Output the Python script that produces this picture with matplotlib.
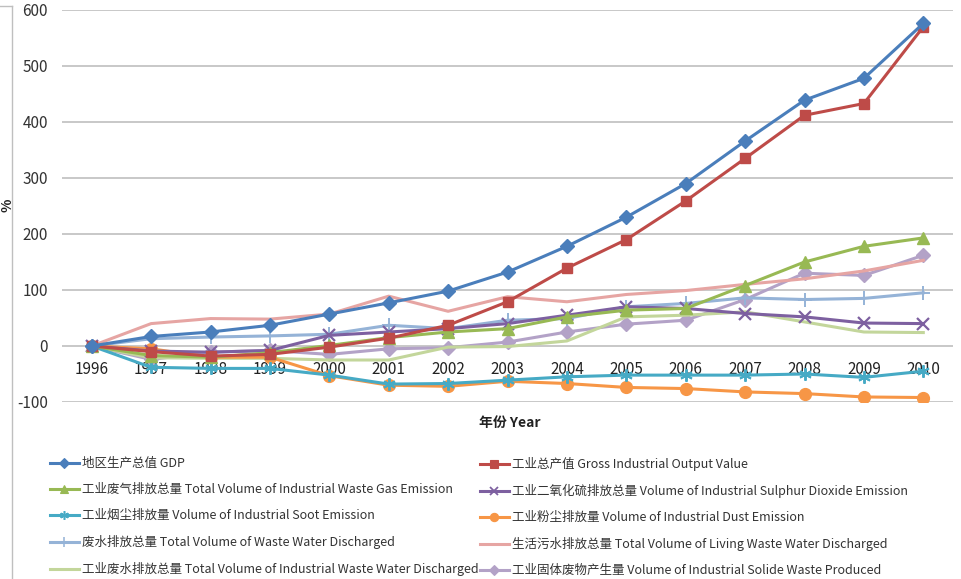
import matplotlib
matplotlib.use('Agg')
import matplotlib.pyplot as plt
from matplotlib.lines import Line2D

plt.rcParams['font.family'] = ['Noto Sans CJK SC', 'DejaVu Sans']
plt.rcParams['axes.unicode_minus'] = False

years = ['1996', '1997', '1998', '1999', '2000', '2001', '2002', '2003',
         '2004', '2005', '2006', '2007', '2008', '2009', '2010']

gdp = [0, 17, 25, 37, 57, 77, 98, 132, 178, 230, 290, 366, 439, 478, 576]
gross_output = [0, -10, -18, -15, -2, 14, 37, 79, 139, 190, 259, 335, 412, 433, 570]
waste_gas = [0, -17, -20, -12, 1, 15, 25, 31, 52, 64, 67, 108, 150, 178, 193]
so2 = [0, -9, -11, -8, 19, 25, 31, 40, 55, 70, 67, 58, 52, 41, 40]
soot = [0, -38, -40, -40, -52, -68, -67, -61, -55, -52, -52, -52, -50, -56, -45]
dust = [0, -5, -20, -20, -53, -70, -72, -63, -67, -74, -76, -82, -85, -91, -92]
waste_water = [0, 13, 16, 18, 21, 37, 31, 46, 49, 70, 76, 86, 83, 85, 95]
living_water = [0, 40, 49, 48, 57, 89, 62, 88, 79, 92, 99, 110, 120, 134, 153]
ind_water = [0, -21, -22, -22, -25, -25, -2, -1, 9, 52, 55, 61, 43, 25, 24]
solid_waste = [0, -24, -11, -8, -15, -5, -3, 7, 25, 39, 46, 83, 130, 126, 162]

labels = [
    '地区生产总值 GDP',
    '工业总产值 Gross Industrial Output Value',
    '工业废气排放总量 Total Volume of Industrial Waste Gas Emission',
    '工业二氧化硫排放总量 Volume of Industrial Sulphur Dioxide Emission',
    '工业烟尘排放量 Volume of Industrial Soot Emission',
    '工业粉尘排放量 Volume of Industrial Dust Emission',
    '废水排放总量 Total Volume of Waste Water Discharged',
    '生活污水排放总量 Total Volume of Living Waste Water Discharged',
    '工业废水排放总量 Total Volume of Industrial Waste Water Discharged',
    '工业固体废物产生量 Volume of Industrial Solide Waste Produced',
]

series = [gdp, gross_output, waste_gas, so2, soot, dust,
          waste_water, living_water, ind_water, solid_waste]

# (line colour, marker, marker size, marker edge width)
styles = [
    ('#4A7EBB', 'D', 7.0, 1.0),
    ('#BE4B48', 's', 7.5, 1.0),
    ('#98B954', '^', 8.5, 1.0),
    ('#7D60A0', 'x', 8.0, 1.6),
    ('#46AAC5', (6, 2, 0), 9.0, 1.4),
    ('#F79646', 'o', 8.5, 1.0),
    ('#95B3D7', '+', 9.5, 1.4),
    ('#E6A5A3', None, 0, 0),
    ('#C3D69B', None, 0, 0),
    ('#B3A2C7', 'D', 7.0, 1.0),
]

fig = plt.figure(figsize=(9.61, 5.79), dpi=100)
ax = fig.add_axes([62 / 961, 1 - 402 / 579, (953 - 62) / 961, (402 - 10) / 579])

x = list(range(len(years)))
draw_order = [7, 8, 6, 9, 4, 5, 3, 2, 1, 0]
for i in draw_order:
    col, mk, ms, mew = styles[i]
    ax.plot(x, series[i], color=col, lw=2.2, marker=mk, markersize=ms,
            markeredgewidth=mew, markerfacecolor=col, markeredgecolor=col,
            zorder=3 + (10 - i) * 0.1, solid_joinstyle='round')

ax.set_xlim(-0.5, len(years) - 0.5)
ax.set_ylim(-100, 600)
ax.set_yticks(range(-100, 601, 100))
ax.grid(axis='y', color='#C8C8C8', lw=1.4)
ax.set_axisbelow(True)
for s in ax.spines.values():
    s.set_visible(False)

ax.spines['bottom'].set_position(('data', 0))
ax.set_xticks(x)
ax.set_xticklabels(years)
ax.tick_params(axis='x', length=0, pad=11, labelsize=11, labelcolor='#222222')
ax.tick_params(axis='y', length=0, pad=10, labelsize=11, labelcolor='#333333')

fig.text(8 / 961, 1 - 205 / 579, '%', rotation=90, ha='center', va='center',
         fontsize=10, fontweight='bold', color='#222222')
fig.text(510 / 961, 1 - 423 / 579, '年份 Year', ha='center', va='center',
         fontsize=10, fontweight='bold', color='#222222')

# two-column legend, filled row by row
def legend_handle(i):
    col, mk, ms, mew = styles[i]
    return Line2D([], [], color=col, lw=2.2, marker=mk, markersize=ms * 0.7,
                  markeredgewidth=mew * 0.8, markerfacecolor=col, markeredgecolor=col)

left_idx = [0, 2, 4, 6, 8]
right_idx = [1, 3, 5, 7, 9]
common = dict(frameon=False, fontsize=9, handlelength=2.3, handletextpad=0.25,
              labelspacing=1.04, borderpad=0, borderaxespad=0,
              labelcolor='#333333')
fig.legend([legend_handle(i) for i in left_idx], [labels[i] for i in left_idx],
           loc='upper left', bbox_to_anchor=(50 / 961, 1 - 457 / 579), **common)
fig.legend([legend_handle(i) for i in right_idx], [labels[i] for i in right_idx],
           loc='upper left', bbox_to_anchor=(480 / 961, 1 - 457 / 579), **common)

# frame corner at the left edge
fig.add_artist(Line2D([12 / 961, 12 / 961], [0, 1 - 6 / 579], transform=fig.transFigure,
                      color='#BFBFBF', lw=1))
fig.add_artist(Line2D([0, 12 / 961], [1 - 6 / 579, 1 - 6 / 579], transform=fig.transFigure,
                      color='#BFBFBF', lw=1))

fig.savefig('out.png', dpi=100)
